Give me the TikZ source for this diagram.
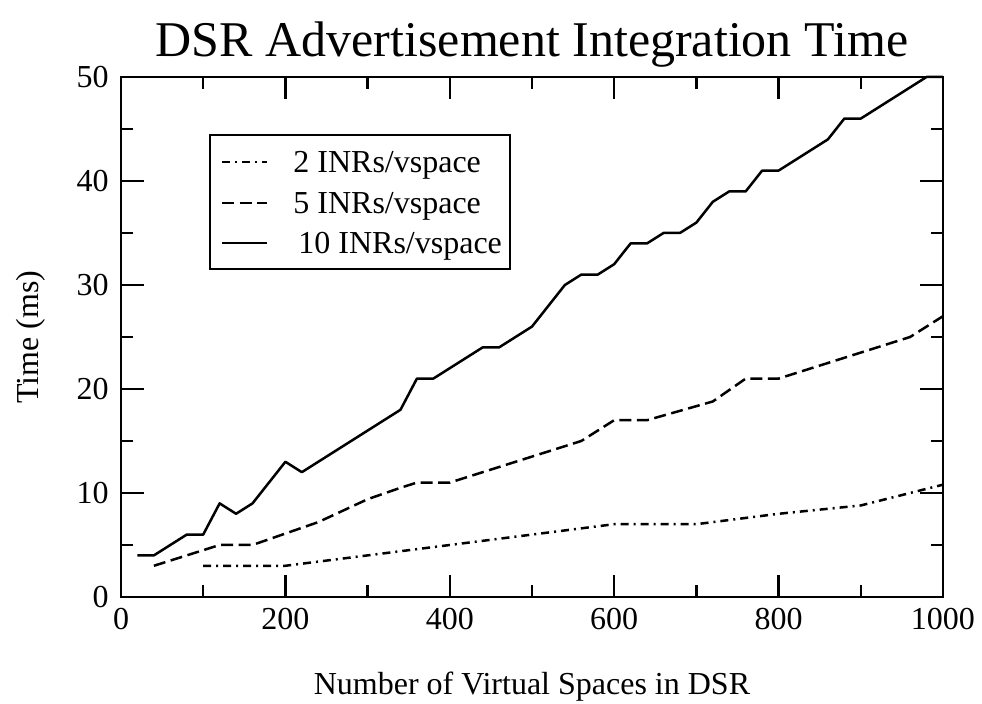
\documentclass[tikz,border=0pt]{standalone}
\usepackage{fontspec}
\setmainfont{Liberation Serif}
\begin{document}
\begin{tikzpicture}[x=0.5pt,y=0.5pt,
  frame/.style={line width=1.3pt},
  tickmark/.style={line width=1.2pt},
  series/.style={line width=1.25pt, line join=round},
  dashdotline/.style={series, dash pattern=on 4pt off 2.5pt on 1pt off 2.5pt},
  dashline/.style={series, dash pattern=on 6pt off 2.8pt},
  solidline/.style={series},
  lbl/.style={inner sep=0pt, font=\fontsize{16}{19}\selectfont},
  titlefont/.style={inner sep=0pt, font=\fontsize{25}{30}\selectfont}
]
\useasboundingbox (0,0) rectangle (982,704);

% title and axis labels
\node[titlefont, anchor=base] (title) at (532,647) {DSR Advertisement Integration Time};
\node[lbl, anchor=base] (xlabel) at (532,9) {Number of Virtual Spaces in DSR};
\node[lbl, rotate=90] (ylabel) at (31,367) {Time (ms)};

% plot area in data coordinates: x 0..1000, y 0..50
\begin{scope}[shift={(60.5pt,53.5pt)}, x={(0.411pt,0pt)}, y={(0pt,5.2pt)}]
  \draw[frame] (0,0) rectangle (1000,50);
  % major and minor ticks on all four sides
  \foreach \v in {200,400,600,800}{
    \draw[tickmark] (\v,0) -- ++(0pt,11pt);
    \draw[tickmark] (\v,50) -- ++(0pt,-11pt);
  }
  \foreach \v in {100,300,...,900}{
    \draw[tickmark] (\v,0) -- ++(0pt,6pt);
    \draw[tickmark] (\v,50) -- ++(0pt,-6pt);
  }
  \foreach \v in {10,20,30,40}{
    \draw[tickmark] (0,\v) -- ++(11.5pt,0pt);
    \draw[tickmark] (1000,\v) -- ++(-11.5pt,0pt);
  }
  \foreach \v in {5,15,...,45}{
    \draw[tickmark] (0,\v) -- ++(6pt,0pt);
    \draw[tickmark] (1000,\v) -- ++(-6pt,0pt);
  }
  % tick labels
  \foreach \v in {0,200,400,600,800,1000}{
    \node[lbl, anchor=base] (xt\v) at ([yshift=-16.5pt]\v,0) {\v};
  }
  \foreach \v in {0,10,20,30,40,50}{
    \node[lbl, anchor=east] (yt\v) at ([xshift=-6pt]0,\v) {\v};
  }

  % 2 INRs/vspace
  \draw[dashdotline] (100,3) -- (200,3) -- (600,7) -- (700,7) -- (800,8)
    -- (900,8.8) -- (1000,10.8);
  % 5 INRs/vspace
  \draw[dashline] (40,3) -- (120,5) -- (160,5) -- (240,7.2) -- (300,9.4)
    -- (340,10.5) -- (360,11) -- (400,11) -- (560,15) -- (600,17) -- (640,17)
    -- (720,18.8) -- (760,21) -- (800,21) -- (960,25) -- (1000,27);
  % 10 INRs/vspace
  \draw[solidline] (20,4) -- (40,4) -- (80,6) -- (100,6) -- (120,9) -- (140,8)
    -- (160,9) -- (200,13) -- (220,12) -- (340,18) -- (360,21) -- (380,21)
    -- (440,24) -- (460,24) -- (500,26) -- (540,30) -- (560,31) -- (580,31)
    -- (600,32) -- (620,34) -- (640,34) -- (660,35) -- (680,35) -- (700,36)
    -- (720,38) -- (740,39) -- (760,39) -- (780,41) -- (800,41) -- (860,44)
    -- (880,46) -- (900,46) -- (980,50) -- (1000,50);
\end{scope}

% legend
\draw[line width=1.1pt] (210,435) rectangle (510,569);
\coordinate (la1) at (222,542); \coordinate (lb1) at (267,542);
\coordinate (la2) at (222,501); \coordinate (lb2) at (267,501);
\coordinate (la3) at (222,461); \coordinate (lb3) at (267,461);
\draw[dashdotline] (la1) -- (lb1);
\draw[dashline] (la2) -- (lb2);
\draw[solidline] (la3) -- (lb3);
\node[lbl, anchor=base west] (leg1) at (293,531) {2 INRs/vspace};
\node[lbl, anchor=base west] (leg2) at (293,490) {5 INRs/vspace};
\node[lbl, anchor=base west] (leg3) at (298,450) {10 INRs/vspace};
\end{tikzpicture}
\end{document}
